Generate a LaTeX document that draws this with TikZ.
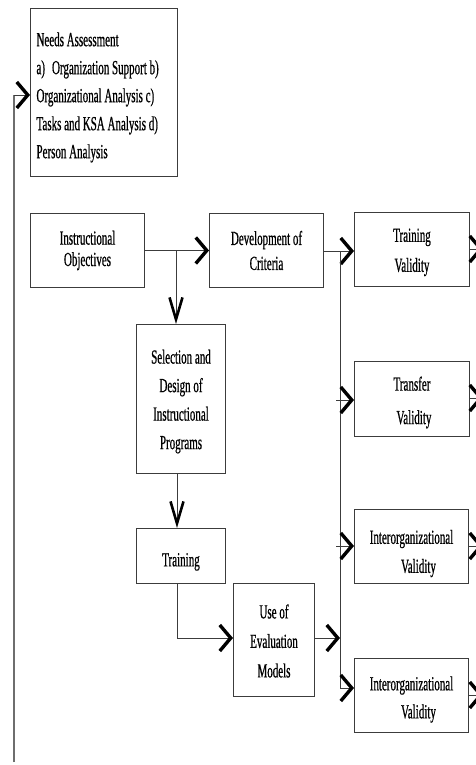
\documentclass[tikz,border=0pt]{standalone}
\usepackage{fontspec}
\setmainfont{Liberation Serif}[FakeStretch=0.55, FakeBold=0.6]
\usetikzlibrary{arrows.meta}
\definecolor{boxgray}{RGB}{60,60,60}
\definecolor{linegray}{RGB}{110,110,110}
\newcommand{\fs}[1]{\fontsize{20}{#1}\selectfont}
\newcommand{\st}[1]{\rule{0pt}{#1pt}}
\tikzset{
  box/.style={draw=boxgray, line width=1pt, inner sep=2pt, align=center, anchor=north west, text=black},
  conn/.style={draw=boxgray, line width=0.9pt},
  arr/.style={conn, -{Straight Barb[length=11pt,width=26pt,line width=3.4pt,sharp,color=black]}},
  varr/.style={conn, -{Straight Barb[length=22pt,width=13pt,line width=2.6pt,sharp,color=black]}},
  feed/.style={draw=linegray, line width=1.6pt},
}
\begin{document}
\begin{tikzpicture}[x=1pt,y=-1pt]
\clip (0,0) rectangle (476,765);
\fill[white] (0,0) rectangle (476,765);
% boxes
\node[box, minimum width=147pt, minimum height=168pt, align=left, font=\fs{28}] (needs) at (30,8)
  {\makebox[135pt][l]{\st{23.7}Needs Assessment}\\a)\hspace{7pt}Organization Support b)\\Organizational Analysis c)\\Tasks and KSA Analysis d)\\Person Analysis};
\node[box, minimum width=114pt, minimum height=74pt, font=\fs{21.4}] (obj) at (30,213) {Instructional\\Objectives};
\node[box, minimum width=114pt, minimum height=74pt, font=\fs{25}] (dev) at (209,213) {Development of\\Criteria};
\node[box, minimum width=115pt, minimum height=74pt, font=\fs{30}] (tval) at (354,212) {\st{19}Training\\Validity};
\node[box, minimum width=89pt, minimum height=149pt, font=\fs{28.5}] (sel) at (136,324) {\st{19}Selection and\\Design of\\Instructional\\Programs};
\node[box, minimum width=115pt, minimum height=75pt, font=\fs{33.5}] (trv) at (354,361) {\st{21}Transfer\\\hspace{4pt}Validity};
\node[box, minimum width=89pt, minimum height=55pt, font=\fs{20}] (trn) at (136,528) {\st{25}Training};
\node[box, minimum width=81pt, minimum height=113pt, font=\fs{29.5}] (use) at (233,583) {\st{16}Use of\\Evaluation\\Models};
\node[box, minimum width=114pt, minimum height=74pt, font=\fs{29}] (iv1) at (354,509) {\st{28}Interorganizational\\\hspace{14pt}Validity};
\node[box, minimum width=114pt, minimum height=74pt, font=\fs{28}] (iv2) at (354,658) {\st{22}Interorganizational\\\hspace{14pt}Validity};
% coordinates
\coordinate (fb) at (14,762);
\coordinate (fbTop) at (14,95);
\coordinate (busTop) at (340,251);
\coordinate (busBot) at (340,688);
\coordinate (split) at (176,251);
\coordinate (selOut) at (177,473);
\coordinate (trnOut) at (177,583);
\coordinate (trnBend) at (177,638);
\coordinate (tick2) at (336,400);
\coordinate (tick3) at (336,546);
\coordinate (out1) at (483,249);
\coordinate (out2) at (483,398);
\coordinate (out3) at (483,546);
\coordinate (out4) at (483,695);
% connectors
\draw[feed] (fb) -- (fbTop);
\draw[arr] (fbTop) -- (needs.west |- fbTop);
\draw[arr] (obj.east) -- (dev.west);
\draw[varr] (split) -- (split |- sel.north);
\draw[varr] (selOut) -- (selOut |- trn.north);
\draw[conn] (trnOut) -- (trnBend);
\draw[arr] (trnBend) -- (use.west |- trnBend);
\draw[arr] (use.east |- trnBend) -- (busTop |- trnBend);
\draw[arr] (dev.east |- busTop) -- (tval.west |- busTop);
\draw[conn] (busTop) -- (busBot);
\draw[arr] (tick2) -- (trv.west |- tick2);
\draw[arr] (tick3) -- (iv1.west |- tick3);
\draw[arr] (busBot) -- (iv2.west |- busBot);
\draw[arr] (tval.east |- out1) -- (out1);
\draw[arr] (trv.east |- out2) -- (out2);
\draw[arr] (iv1.east |- out3) -- (out3);
\draw[arr] (iv2.east |- out4) -- (out4);
\end{tikzpicture}
\end{document}
